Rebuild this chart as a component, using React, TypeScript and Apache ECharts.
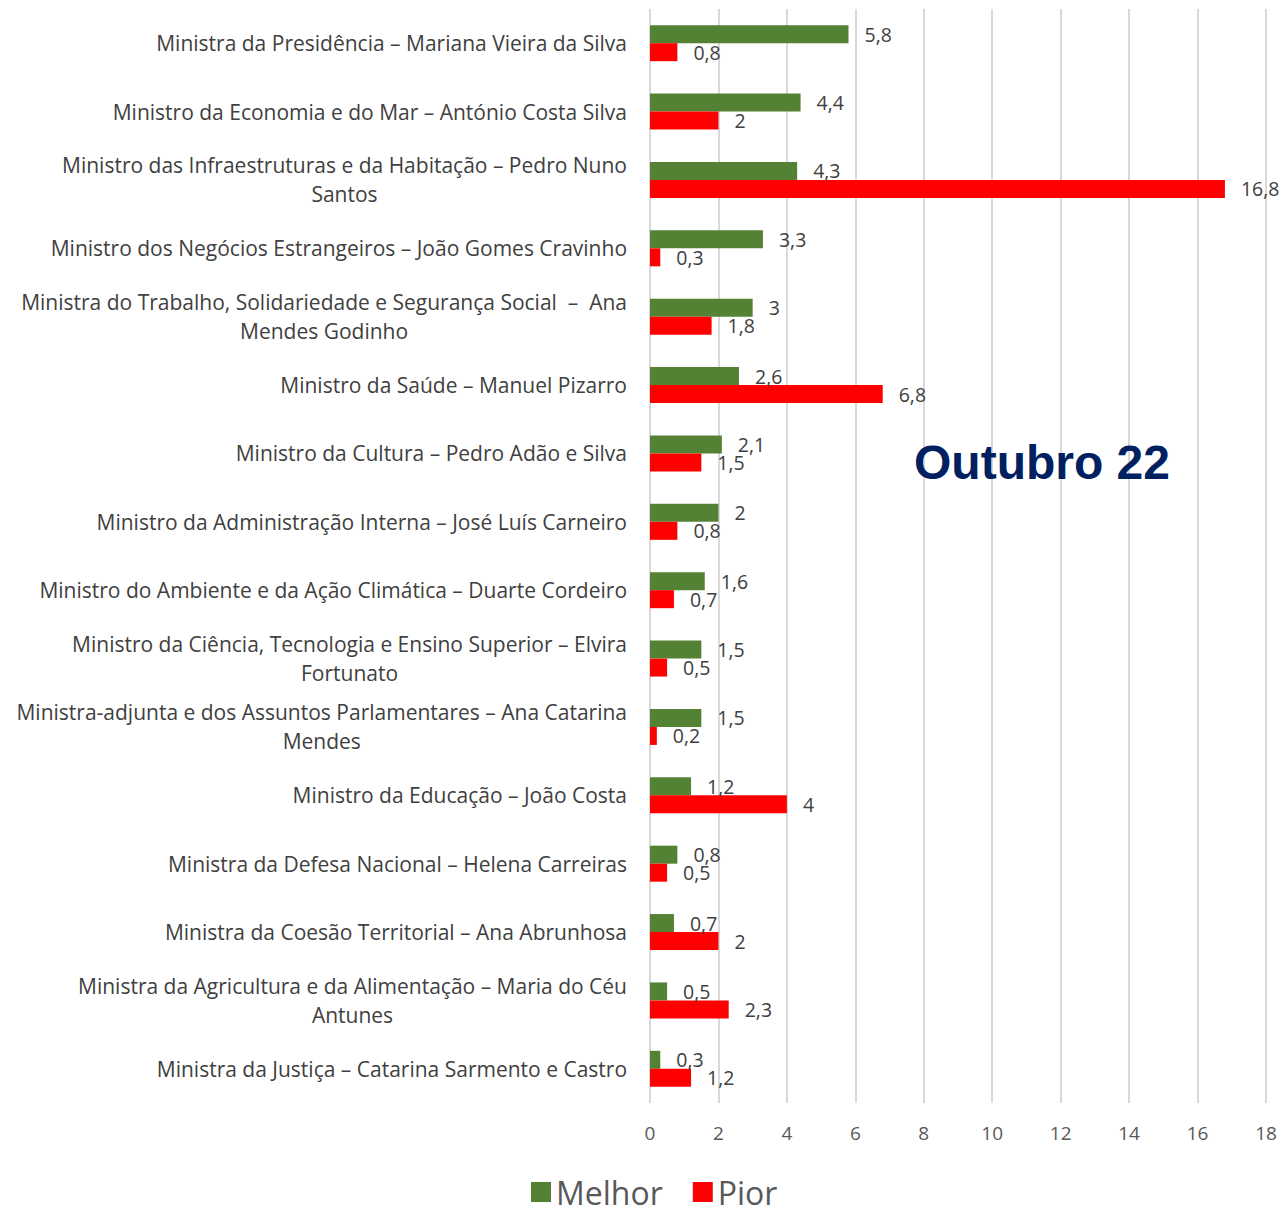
import React, { useEffect, useRef } from "react";
import * as echarts from "echarts";

const categories = [
  "Ministra da Presidência – Mariana Vieira da Silva",
  "Ministro da Economia e do Mar – António Costa Silva",
  "Ministro das Infraestruturas e da Habitação – Pedro Nuno\nSantos",
  "Ministro dos Negócios Estrangeiros – João Gomes Cravinho",
  "Ministra do Trabalho, Solidariedade e Segurança Social  –  Ana\nMendes Godinho",
  "Ministro da Saúde – Manuel Pizarro",
  "Ministro da Cultura – Pedro Adão e Silva",
  "Ministro da Administração Interna – José Luís Carneiro",
  "Ministro do Ambiente e da Ação Climática – Duarte Cordeiro",
  "Ministro da Ciência, Tecnologia e Ensino Superior – Elvira\nFortunato",
  "Ministra-adjunta e dos Assuntos Parlamentares – Ana Catarina\nMendes",
  "Ministro da Educação – João Costa",
  "Ministra da Defesa Nacional – Helena Carreiras",
  "Ministra da Coesão Territorial – Ana Abrunhosa",
  "Ministra da Agricultura e da Alimentação – Maria do Céu\nAntunes",
  "Ministra da Justiça – Catarina Sarmento e Castro",
];

const melhor = [5.8, 4.4, 4.3, 3.3, 3, 2.6, 2.1, 2, 1.6, 1.5, 1.5, 1.2, 0.8, 0.7, 0.5, 0.3];
const pior = [0.8, 2, 16.8, 0.3, 1.8, 6.8, 1.5, 0.8, 0.7, 0.5, 0.2, 4, 0.5, 2, 2.3, 1.2];

const seriesNames = ["Melhor", "Pior"];
const titleText = "Outubro 22";

const FONT = "'Open Sans', 'Noto Sans', sans-serif";

export default function App() {
  const ref = useRef<HTMLDivElement>(null);
  useEffect(() => {
    if (!ref.current) return;
    const chart = echarts.init(ref.current, null, { renderer: "svg" });
    const labelFmt = (p: any) => String(p.value).replace(".", ",");
    chart.setOption({
      animation: false,
      textStyle: { fontFamily: FONT },
      title: {
        text: titleText,
        left: 909,
        top: 433,
        textStyle: { fontFamily: "'Liberation Sans', Arial, sans-serif", fontWeight: "bold", fontSize: 48, color: "#002060" },
      },
      legend: {
        data: seriesNames,
        left: 531,
        top: 1176,
        padding: 0,
        icon: "rect",
        itemWidth: 20,
        itemHeight: 20,
        itemGap: 30,
        textStyle: { fontSize: 32, lineHeight: 28, color: "#595959", fontFamily: FONT },
      },
      grid: { left: 650, right: 17, top: 9, bottom: 106, containLabel: false, outerBoundsMode: "none" },
      xAxis: {
        type: "value",
        min: 0,
        max: 18,
        interval: 2,
        axisLine: { show: false },
        axisTick: { show: false },
        splitLine: { show: true, lineStyle: { color: "#d9d9d9", width: 2 } },
        axisLabel: { color: "#595959", fontSize: 19, margin: 20, fontFamily: FONT },
      },
      yAxis: {
        type: "category",
        inverse: true,
        data: categories,
        axisLine: { show: false },
        axisTick: { show: false },
        axisLabel: {
          color: "#404040",
          fontSize: 21,
          margin: 23,
          fontFamily: FONT,
          lineHeight: 29,
          formatter: (v: string) => v.split("\n").map((l) => "{c|" + l + "}").join("\n"),
          rich: { c: { align: "center", fontSize: 21, lineHeight: 29, color: "#404040", fontFamily: FONT } },
        },
      },
      series: [
        {
          name: seriesNames[0],
          type: "bar",
          data: melhor,
          barWidth: 18,
          barGap: "0%",
          itemStyle: { color: "#548235" },
          label: { show: true, position: "right", distance: 16, color: "#404040", fontSize: 19.5, fontFamily: FONT, formatter: labelFmt },
        },
        {
          name: seriesNames[1],
          type: "bar",
          data: pior,
          barWidth: 18,
          barGap: "0%",
          itemStyle: { color: "#ff0000" },
          label: { show: true, position: "right", distance: 16, color: "#404040", fontSize: 19.5, fontFamily: FONT, formatter: labelFmt },
        },
      ],
    });
    return () => chart.dispose();
  }, []);
  return <div ref={ref} style={{ position: "absolute", left: 0, top: 0, width: 1283, height: 1209 }} />;
}
